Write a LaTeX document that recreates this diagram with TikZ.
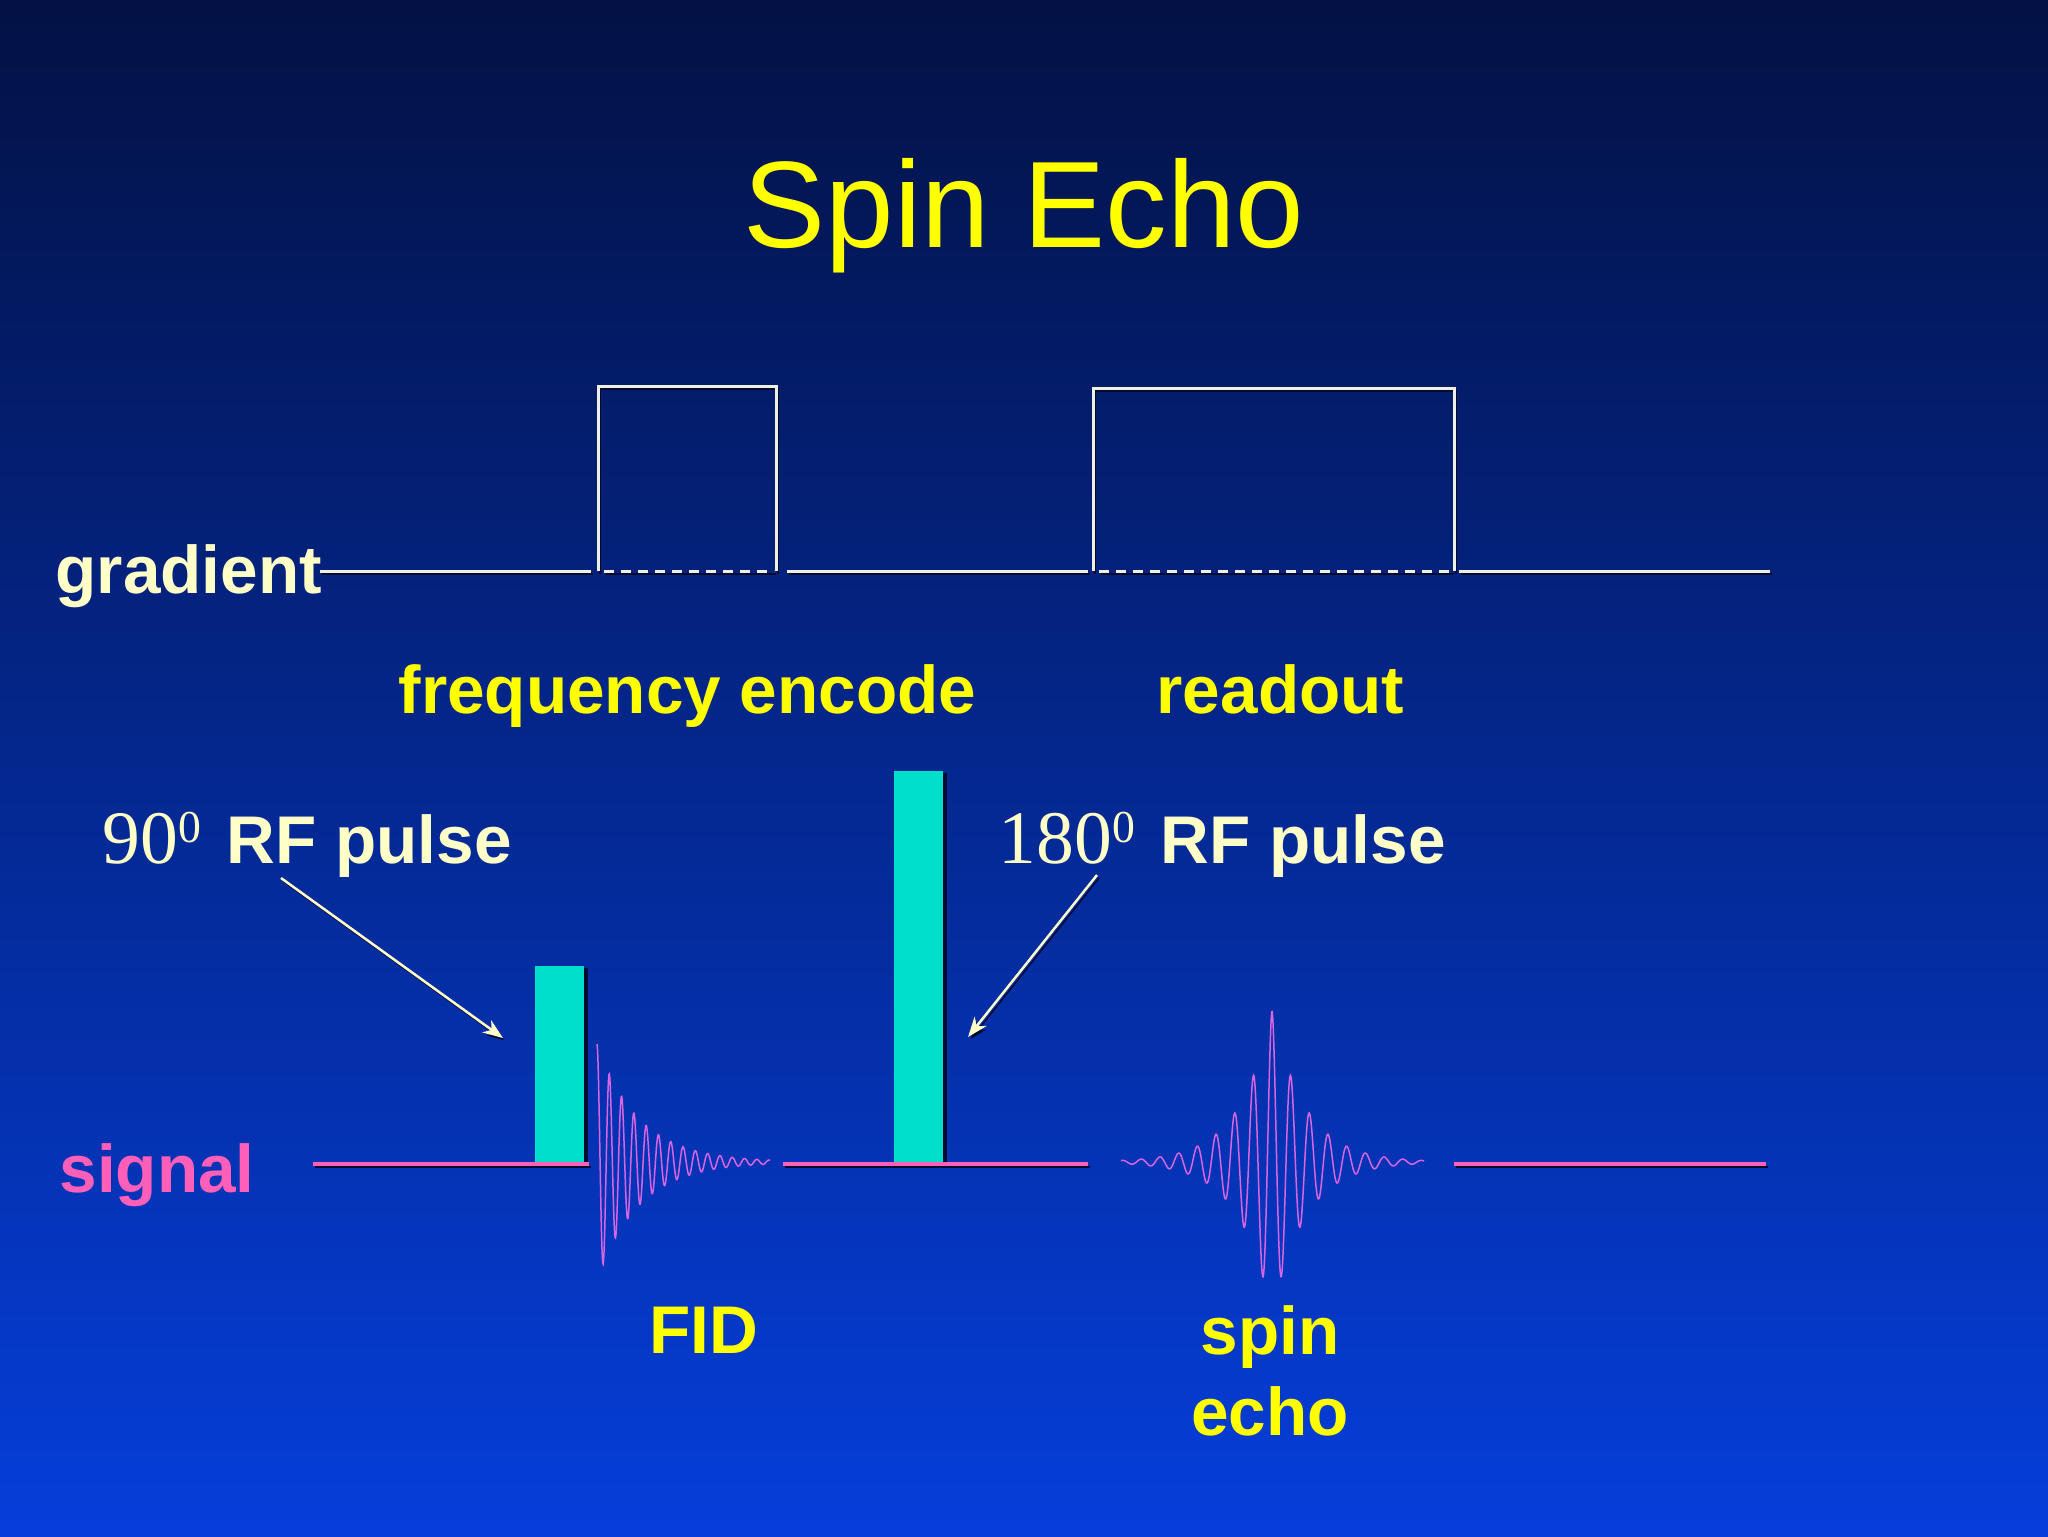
\documentclass[tikz,border=0pt]{standalone}
\usepackage{fontspec}
\setmainfont{Liberation Sans}
\newfontfamily\timesfont{Liberation Serif}
\usepackage{xcolor}
\definecolor{Navy}{RGB}{3,17,68}
\definecolor{MidBlue}{RGB}{6,40,160}
\definecolor{Royal}{RGB}{5,62,218}
\definecolor{Yellow}{RGB}{255,255,0}
\definecolor{Cream}{RGB}{255,255,200}
\definecolor{Pink}{RGB}{255,95,185}
\definecolor{Violet}{RGB}{215,100,225}
\definecolor{Cyan}{RGB}{0,222,204}
\definecolor{Shadow}{RGB}{2,10,50}
\definecolor{Wire}{RGB}{240,240,225}
\newcommand{\labelfont}			{\bfseries\fontsize{19.2}{23}\selectfont}
\newcommand{\degsup}			{\raisebox{5.9pt}{\fontsize{13}{13}\selectfont 0}\hspace{2pt}}
\newcommand{\angleMod}[1]		{{\timesfont\mdseries\fontsize{21.5}{21.5}\selectfont #1\degsup}}
\usetikzlibrary{arrows.meta}

\begin{document}
\begin{tikzpicture}[x=0.1mm, y=-0.1mm,
		shadowed/.style={preaction={draw=Shadow, transform canvas={shift={(0.2mm,-0.3mm)}}}},
		wire/.style={draw=Wire, line width=0.3mm, shadowed},
		pinkline/.style={draw=Pink, line width=0.4mm, shadowed},
		wave/.style={draw=Violet, line width=0.15mm},
		pulsebar/.style={fill=Cyan, preaction={fill=Shadow, transform canvas={shift={(0.35mm,-0.2mm)}}}},
		pointer/.style={draw=Cream, line width=0.25mm, shadowed, -{Stealth[length=2mm, width=1.5mm, inset=0.6mm]}},
		lbl/.style={inner sep=0pt, anchor=base west, font=\labelfont}]
		
		% Background
		\useasboundingbox (0,0) rectangle (2048,1536);
		\shade[top color=Navy, middle color=MidBlue, bottom color=Royal] (0,0) rectangle (2048,1536);
		
		% Title
		\node[inner sep=0pt, anchor=base, color=Yellow, font=\fontsize{35}{40}\selectfont] (title) at (1024,247) {Spin Echo};
		
		% Names
		\node[lbl, color=Cream] (gradient) at (55,593) {gradient};
		\node[lbl, color=Yellow] (freq) at (398,713) {frequency encode};
		\node[lbl, color=Yellow] (readout) at (1156,713) {readout};
		\node[lbl, color=Cream] (rf90) at (102,863) {\angleMod{90} RF pulse};
		\node[lbl, color=Cream] (rf180) at (998,863) {\angleMod{180} RF pulse};
		\node[lbl, color=Pink] (signal) at (59,1192) {signal};
		\node[lbl, color=Yellow] (fid) at (649,1353) {FID};
		\node[inner sep=0pt, anchor=base, align=center, font=\labelfont, color=Yellow] (echo) at (1270,1435) {spin\\echo};
		
		% Gradient
		\draw[wire] (320,571) -- (591,571);
		\draw[wire] (598,571) -- (598,386) -- (776,386) -- (776,571);
		\draw[wire, dash pattern=on 1mm off 0.7mm] (604,571) -- (774,571);
		\draw[wire] (787,571) -- (1088,571);
		\draw[wire] (1093,571) -- (1093,388) -- (1454,388) -- (1454,571);
		\draw[wire, dash pattern=on 1mm off 0.7mm] (1099,571) -- (1452,571);
		\draw[wire] (1459,571) -- (1770,571);
		
		% Pulses
		\fill[pulsebar] (535,966) rectangle (584,1164);
		\fill[pulsebar] (894,771) rectangle (943,1164);
		
		% Signal
		\draw[pinkline] (313,1164) -- (589,1164);
		\draw[pinkline] (783,1164) -- (1088,1164);
		\draw[pinkline] (1454,1164) -- (1766,1164);
		
		\draw[wave] plot[domain=0:173, samples=450] ({597+\x},{1162-118*exp(-\x/42)*cos(\x*29.27)});
		\draw[wave] plot[domain=-151:152, samples=600] ({1272+\x},{1162-152*exp(-abs(\x)/33)*cos(\x*19.25)});
		
		% Arrows
		\coordinate (from90) at (281,878);
		\coordinate (tip90) at (503,1038);
		\coordinate (from180) at (1097,875);
		\coordinate (tip180) at (968,1037);
		\draw[pointer] (from90) -- (tip90);
		\draw[pointer] (from180) -- (tip180);
		
	\end{tikzpicture}
\end{document}
